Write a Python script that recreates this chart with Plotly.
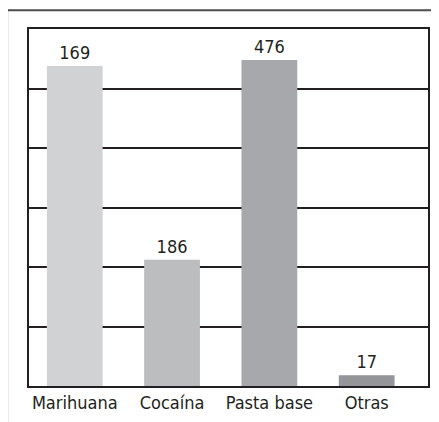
import plotly.graph_objects as go

categories = ["Marihuana", "Cocaína", "Pasta base", "Otras"]
bar_heights = [538, 212, 548, 18]
value_labels = ["169", "186", "476", "17"]
bar_colors = ["#d1d2d4", "#bcbdbf", "#a7a8ab", "#939598"]
y_ticks = [0, 100, 200, 300, 400, 500, 600]

FONT = "Liberation Sans Narrow, Arial Narrow, DejaVu Sans Condensed, sans-serif"

fig = go.Figure(go.Bar(
    x=categories,
    y=bar_heights,
    marker=dict(color=bar_colors, line=dict(width=0)),
    width=0.573,
    text=value_labels,
    textposition="outside",
    textfont=dict(family=FONT, size=18, color="#231f20"),
    cliponaxis=False,
))

fig.update_layout(
    width=431, height=414,
    margin=dict(l=21, r=9, t=21, b=33),
    paper_bgcolor="white",
    plot_bgcolor="white",
    showlegend=False,
    font=dict(family=FONT, size=18, color="#231f20"),
    xaxis=dict(
        range=[-0.47, 3.63],
        showgrid=False,
        showline=True, linecolor="#231f20", linewidth=1.5, mirror=True,
        ticks="", tickfont=dict(family=FONT, size=18, color="#231f20"),
        fixedrange=True,
    ),
    yaxis=dict(
        range=[0, 600],
        tickvals=y_ticks,
        showticklabels=False,
        showgrid=True, gridcolor="#231f20", gridwidth=1.5,
        showline=True, linecolor="#231f20", linewidth=1.5, mirror=True,
        zeroline=False, ticks="",
        fixedrange=True,
    ),
    shapes=[
        dict(type="line", xref="paper", yref="paper",
             x0=-0.0549, x1=1.1, y0=1.0528, y1=1.0528,
             line=dict(color="#4d4d4f", width=2)),
        dict(type="line", xref="paper", yref="paper",
             x0=-0.0549, x1=-0.0549, y0=1.0528, y1=-0.2,
             line=dict(color="#231f20", width=2)),
    ],
)

fig.write_html("out.html")
